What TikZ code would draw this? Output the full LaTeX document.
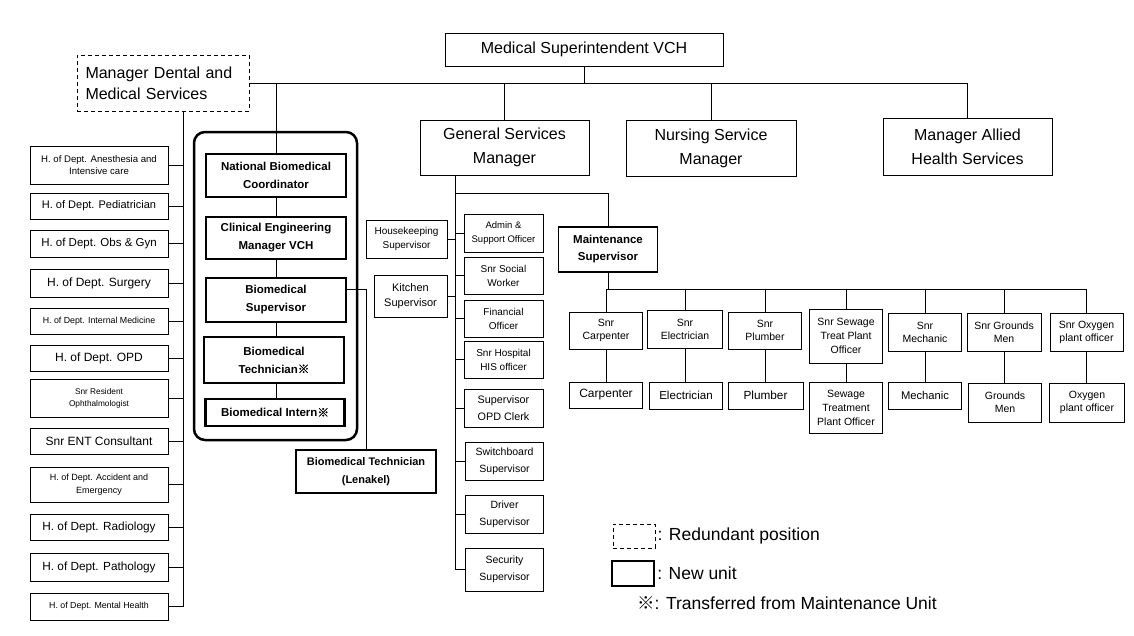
\documentclass[tikz,border=0pt]{standalone}
\usepackage{fontspec}
\setmainfont{Liberation Sans}
\newfontfamily\cjk[AutoFakeBold=2.5]{Noto Sans CJK JP}
\usetikzlibrary{calc}
\newcommand{\fs}[2]{\fontsize{#1}{#2}\selectfont}
\newcommand{\kome}{{\cjk ※}}
\begin{document}
\begin{tikzpicture}[x=1pt,y=-1pt,
  box/.style={draw, line width=0.9pt, align=center, inner sep=1pt},
  newbox/.style={draw, line width=2.2pt, align=center, inner sep=1pt, font=\bfseries\fs{11.5}{18}},
  redund/.style={draw, dash pattern=on 4pt off 3pt, line width=0.9pt, inner sep=1pt},
  container/.style={draw, line width=2.5pt, rounded corners=11pt, inner sep=0pt},
  link/.style={line width=0.9pt},
  legtext/.style={anchor=west, inner sep=0pt, font=\fs{17.5}{20}}]
\useasboundingbox (0,0) rectangle (1134,635);

% ---- top level ----
\node[box, font=\fs{16}{24}, minimum width=278pt, minimum height=33pt] (sup) at (584,49.5) {Medical Superintendent VCH};
\node[redund, font=\fs{16}{21}, minimum width=172pt, minimum height=56pt, text width=155pt, align=left] (dental) at (163,83) {Manager Dental and\\Medical Services};
\node[box, font=\fs{16}{24}, minimum width=169pt, minimum height=55pt] (gsm) at (504.5,147.5) {General Services\\Manager};
\node[box, font=\fs{16}{24}, minimum width=170pt, minimum height=56pt] (nsm) at (711,148) {Nursing Service\\Manager};
\node[box, font=\fs{16}{24}, minimum width=169pt, minimum height=57pt] (allied) at (967.5,146.5) {Manager Allied\\Health Services};

% ---- new unit ----
\node[container, minimum width=163pt, minimum height=308pt] (nu) at (275.5,286) {};
\node[newbox, minimum width=140pt, minimum height=43pt] (nbc) at (276,175.5) {National Biomedical\\Coordinator};
\node[newbox, minimum width=140pt, minimum height=42pt] (cem) at (276,238) {Clinical Engineering\\Manager VCH};
\node[newbox, minimum width=140pt, minimum height=44pt] (bsup) at (276,300) {Biomedical\\Supervisor};
\node[newbox, minimum width=140pt, minimum height=46pt] (btech) at (274,360) {Biomedical\\Technician\kome};
\node[newbox, minimum width=139pt, minimum height=27pt] (bint) at (275,412.5) {Biomedical Intern\kome};
\node[newbox, font=\bfseries\fs{11}{18}, minimum width=140pt, minimum height=43pt] (blen) at (366,471.5) {Biomedical Technician\\(Lenakel)};

% ---- left column ----
\coordinate (lcol) at (183,0);
\node[box, font=\fs{9.6}{12}, minimum width=138pt, minimum height=38pt] (d1) at (99,165) {H. of Dept. Anesthesia and\\Intensive care};
\node[box, font=\fs{11}{13}, minimum width=138pt, minimum height=26pt] (d2) at (99,206) {H. of Dept. Pediatrician};
\node[box, font=\fs{11.5}{13}, minimum width=138pt, minimum height=27pt] (d3) at (99,243.5) {H. of Dept. Obs \& Gyn};
\node[box, font=\fs{12}{14}, minimum width=138pt, minimum height=28pt] (d4) at (99,283) {H. of Dept. Surgery};
\node[box, font=\fs{8.8}{11}, minimum width=138pt, minimum height=26pt] (d5) at (99,321) {H. of Dept. Internal Medicine};
\node[box, font=\fs{12}{14}, minimum width=138pt, minimum height=26pt] (d6) at (99,358) {H. of Dept. OPD};
\node[box, font=\fs{8.3}{12}, minimum width=138pt, minimum height=38pt] (d7) at (99,398) {Snr Resident\\Ophthalmologist};
\node[box, font=\fs{12}{14}, minimum width=138pt, minimum height=26pt] (d8) at (99,441) {Snr ENT Consultant};
\node[box, font=\fs{9}{13}, minimum width=138pt, minimum height=35pt] (d9) at (99,484.5) {H. of Dept. Accident and\\Emergency};
\node[box, font=\fs{11.8}{14}, minimum width=138pt, minimum height=26pt] (d10) at (99,527) {H. of Dept. Radiology};
\node[box, font=\fs{11.8}{14}, minimum width=138pt, minimum height=28pt] (d11) at (99,567) {H. of Dept. Pathology};
\node[box, font=\fs{8.8}{11}, minimum width=138pt, minimum height=27pt] (d12) at (99,606.5) {H. of Dept. Mental Health};

% ---- general services children ----
\coordinate (gcol) at (455,0);
\coordinate (gbus) at (455,193);
\node[box, font=\fs{9.5}{14}, minimum width=79pt, minimum height=38pt] (adm) at (503.5,233) {Admin \&\\Support Officer};
\node[box, font=\fs{10}{14}, minimum width=79pt, minimum height=37pt] (ssw) at (503.5,275.5) {Snr Social\\Worker};
\node[box, font=\fs{10}{14}, minimum width=79pt, minimum height=37pt] (fin) at (503.5,318.5) {Financial\\Officer};
\node[box, font=\fs{10}{14}, minimum width=79pt, minimum height=37pt] (his) at (503.5,359.5) {Snr Hospital\\HIS officer};
\node[box, font=\fs{10.8}{17}, minimum width=79pt, minimum height=38pt] (opd) at (503.5,408) {Supervisor\\OPD Clerk};
\node[box, font=\fs{10.5}{17}, minimum width=78pt, minimum height=38pt] (swb) at (504.5,461) {Switchboard\\Supervisor};
\node[box, font=\fs{10.5}{17}, minimum width=78pt, minimum height=38pt] (drv) at (504.5,514) {Driver\\Supervisor};
\node[box, font=\fs{10.5}{17}, minimum width=78pt, minimum height=43pt] (sec) at (504.5,569.5) {Security\\Supervisor};
\node[box, font=\fs{10}{14}, minimum width=81pt, minimum height=38pt] (hk) at (406.5,239) {Housekeeping\\Supervisor};
\node[box, font=\fs{11}{15}, minimum width=73pt, minimum height=42pt] (kit) at (410.5,296) {Kitchen\\Supervisor};

% ---- maintenance ----
\node[box, font=\bfseries\fs{11.5}{17}, line width=1.3pt, minimum width=99pt, minimum height=45pt] (maint) at (608,249.5) {Maintenance\\Supervisor};
\coordinate (mbus) at (0,289);
\node[box, font=\fs{10.5}{13}, minimum width=73pt, minimum height=37pt] (scar) at (606,330.5) {Snr\\Carpenter};
\node[box, font=\fs{10.5}{13}, minimum width=75pt, minimum height=38pt] (sele) at (685,329) {Snr\\Electrician};
\node[box, font=\fs{10.5}{13}, minimum width=73pt, minimum height=37pt] (splu) at (765,330.5) {Snr\\Plumber};
\node[box, font=\fs{10.5}{14}, minimum width=73pt, minimum height=54pt] (ssew) at (846,336) {Snr Sewage\\Treat Plant\\Officer};
\node[box, font=\fs{10.5}{13}, minimum width=73pt, minimum height=38pt] (smec) at (925,332) {Snr\\Mechanic};
\node[box, font=\fs{10.5}{13}, minimum width=74pt, minimum height=38pt] (sgro) at (1004,332) {Snr Grounds\\Men};
\node[box, font=\fs{10.5}{13}, minimum width=73pt, minimum height=38pt] (sox) at (1086.5,332) {Snr Oxygen\\plant officer};
\node[box, font=\fs{12}{14}, minimum width=73pt, minimum height=26pt] (car) at (606,395) {Carpenter};
\node[box, font=\fs{11.6}{14}, minimum width=73pt, minimum height=27pt] (ele) at (686,395.5) {Electrician};
\node[box, font=\fs{11.8}{14}, minimum width=75pt, minimum height=27pt] (plu) at (765.5,395.5) {Plumber};
\node[box, font=\fs{10.5}{14}, minimum width=73pt, minimum height=51pt] (sew) at (846,407.5) {Sewage\\Treatment\\Plant Officer};
\node[box, font=\fs{11.2}{14}, minimum width=73pt, minimum height=27pt] (mec) at (925,395.5) {Mechanic};
\node[box, font=\fs{10.5}{13}, minimum width=73pt, minimum height=39pt] (gro) at (1005,402.5) {Grounds\\Men};
\node[box, font=\fs{10.5}{13}, minimum width=75pt, minimum height=39pt] (oxy) at (1087,402.5) {Oxygen\\plant officer};

% ---- connectors ----
\draw[link] (sup.south) -- (sup.south |- dental.east);
\draw[link] (dental.east) -| (allied.north);
\draw[link] (gsm.north) -- (gsm.north |- dental.east);
\draw[link] (nsm.north) -- (nsm.north |- dental.east);
\draw[link] (nbc.north) -- (nbc.north |- dental.east);
\draw[link] (nbc.south) -- (cem.north);
\draw[link] (cem.south) -- (bsup.north);
\draw[link] (bsup.south) -- (bsup.south |- btech.north);
\draw[link] (bsup.south |- btech.south) -- (bsup.south |- bint.north);
\draw[link] ($(bsup.east)+(0,-11)$) -| (blen.north);

\draw[link] (dental.south -| lcol) -- (lcol |- d12.east);
\foreach \d in {d1,d2,d3,d4,d5,d6,d7,d8,d9,d10,d11,d12}
  \draw[link] (\d.east) -- (\d.east -| lcol);

\draw[link] (gsm.south -| gcol) -- (gcol |- sec.west);
\draw[link] (gbus) -| (maint.north);
\foreach \g in {adm,ssw,fin,his,opd,swb,drv,sec}
  \draw[link] (\g.west) -- (\g.west -| gcol);
\draw[link] (hk.east) -- (hk.east -| gcol);
\draw[link] (kit.east) -- (kit.east -| gcol);

\draw[link] (maint.south) -- (maint.south |- mbus);
\draw[link] (scar.north |- mbus) -- (sox.north |- mbus);
\foreach \s/\l in {scar/car,sele/ele,splu/plu,ssew/sew,smec/mec,sgro/gro,sox/oxy}{
  \draw[link] (\s.north) -- (\s.north |- mbus);
  \draw[link] (\s.south) -- (\s.south |- \l.north);
}

% ---- legend ----
\node[redund, minimum width=42pt, minimum height=24pt] (lg1) at (634,536) {};
\node[legtext] (lt1) at ([xshift=2pt]lg1.east) {: Redundant position};
\node[draw, line width=2.2pt, inner sep=0pt, minimum width=42pt, minimum height=25pt] (lg2) at (633,573.5) {};
\node[legtext] (lt2) at ([xshift=2pt]lg2.east) {: New unit};
\node[legtext] (lt3) at (637,603) {\kome: Transferred from Maintenance Unit};
\end{tikzpicture}
\end{document}
